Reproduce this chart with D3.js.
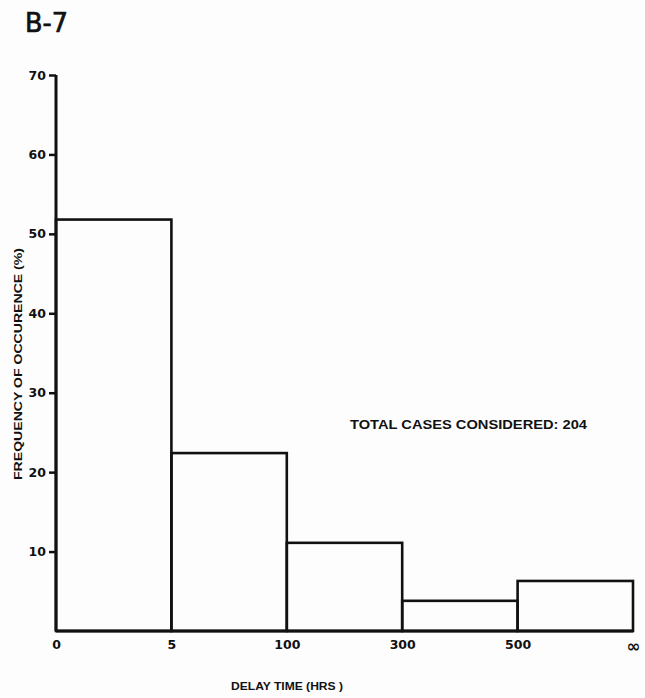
<!DOCTYPE html>
<html>
<head>
<meta charset="utf-8">
<script src="https://cdn.jsdelivr.net/npm/d3@7"></script>
<style>
  html, body { margin: 0; padding: 0; background: #fdfdfd; }
  svg { display: block; }
  text { font-family: "Liberation Sans", Arial, sans-serif; fill: #111; }
</style>
</head>
<body>
<svg id="chart" width="645" height="698"></svg>
<script>
// Delay-time bins (edge labels) and share of cases in each bin (%)
const binEdges = ["0", "5", "100", "300", "500", "\u221E"];
const binValues = [51.8, 22.4, 11.1, 3.8, 6.3];
const yTicks = [10, 20, 30, 40, 50, 60, 70];

const svg = d3.select("#chart");
const ink = "#111";

const x = d3.scaleLinear().domain([0, binValues.length]).range([56, 633]);
const y = d3.scaleLinear().domain([0, 70]).range([631, 75]);

// Figure number
svg.append("text")
  .attr("x", 25).attr("y", 32)
  .attr("font-size", 26)
  .attr("font-weight", "normal")
  .style("font-family", "'DejaVu Sans', sans-serif")
  .attr("stroke", ink).attr("stroke-width", 0.7)
  .attr("textLength", 43).attr("lengthAdjust", "spacingAndGlyphs")
  .text("B-7");

// Histogram bars
svg.append("g")
  .selectAll("rect")
  .data(binValues)
  .join("rect")
  .attr("x", (d, i) => x(i))
  .attr("y", d => y(d))
  .attr("width", (d, i) => x(i + 1) - x(i))
  .attr("height", d => y(0) - y(d))
  .attr("fill", "none")
  .attr("stroke", ink)
  .attr("stroke-width", 2.6);

// Y axis
const yAxis = svg.append("g")
  .attr("transform", `translate(${x(0)},0)`)
  .call(d3.axisLeft(y).tickValues(yTicks).tickSize(7).tickPadding(3).tickFormat(d3.format("d")));
yAxis.select(".domain").attr("stroke", ink).attr("stroke-width", 3)
  .attr("d", `M0,${y(0)}V${y(70)}`);
yAxis.selectAll(".tick line").attr("stroke", ink).attr("stroke-width", 2.5);
yAxis.selectAll(".tick text")
  .attr("font-size", 12.5).attr("font-weight", "bold")
  .style("font-family", "'DejaVu Sans', sans-serif")
  .attr("fill", ink);

// X axis with bin-edge labels
const xAxis = svg.append("g")
  .attr("transform", `translate(0,${y(0)})`)
  .call(d3.axisBottom(x).tickValues(d3.range(binEdges.length)).tickSize(0).tickPadding(9)
    .tickFormat(i => binEdges[i]));
xAxis.select(".domain").attr("stroke", ink).attr("stroke-width", 3)
  .attr("d", `M${x(0)},0H${x(binValues.length)}`);
xAxis.selectAll(".tick text")
  .attr("font-size", (i) => i === binEdges.length - 1 ? 17 : 12.5)
  .attr("font-weight", "bold")
  .style("font-family", "'DejaVu Sans', sans-serif")
  .attr("fill", ink);

// Axis titles
svg.append("text")
  .attr("transform", "translate(22,364) rotate(-90)")
  .attr("text-anchor", "middle")
  .attr("font-size", 11).attr("font-weight", "bold")
  .attr("textLength", 232).attr("lengthAdjust", "spacingAndGlyphs")
  .text("FREQUENCY OF OCCURENCE (%)");

svg.append("text")
  .attr("x", 287).attr("y", 690)
  .attr("text-anchor", "middle")
  .attr("font-size", 11).attr("font-weight", "bold")
  .attr("textLength", 112).attr("lengthAdjust", "spacingAndGlyphs")
  .text("DELAY TIME (HRS )");

// Annotation
svg.append("text")
  .attr("x", 350).attr("y", 429)
  .attr("font-size", 12).attr("font-weight", "bold")
  .attr("textLength", 237).attr("lengthAdjust", "spacingAndGlyphs")
  .text("TOTAL CASES CONSIDERED: 204");
</script>
</body>
</html>
